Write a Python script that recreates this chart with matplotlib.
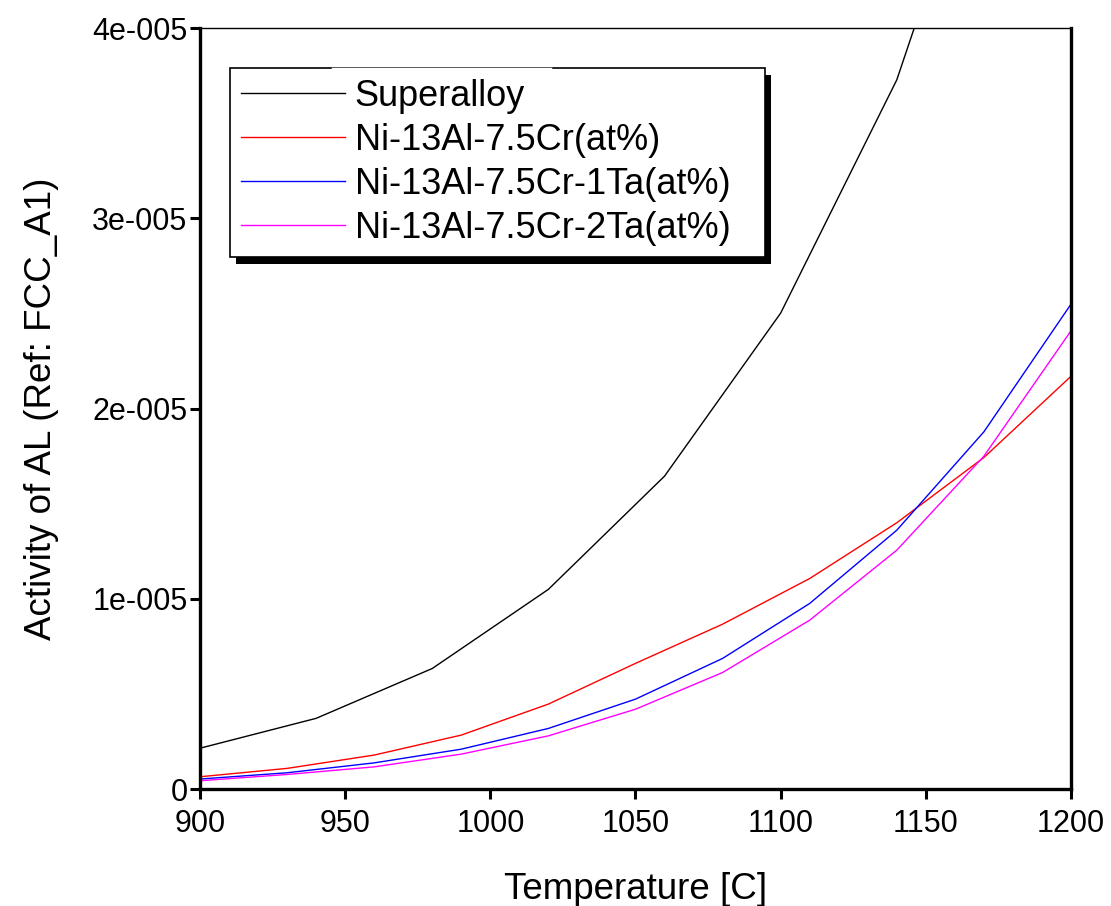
import numpy as np
import matplotlib
matplotlib.use("Agg")
import matplotlib.pyplot as plt
from matplotlib.patches import Rectangle
from matplotlib.lines import Line2D
from matplotlib.ticker import FuncFormatter

plt.rcParams['font.family'] = ['Liberation Sans', 'DejaVu Sans']

# temperatures [C]
temp_super = [900, 940, 980, 1020, 1060, 1100, 1140, 1180]
temp_alloy = [900, 930, 960, 990, 1020, 1050, 1080, 1110, 1140, 1170, 1200]

# activity of Al, in units of 1e-5
act_super = [0.215, 0.372, 0.634, 1.05, 1.645, 2.502, 3.728, 5.54]
act_cr = [0.065, 0.109, 0.179, 0.284, 0.447, 0.661, 0.867, 1.107, 1.400, 1.743, 2.170]
act_1ta = [0.053, 0.086, 0.138, 0.210, 0.319, 0.473, 0.687, 0.976, 1.361, 1.878, 2.549]
act_2ta = [0.044, 0.077, 0.117, 0.184, 0.280, 0.420, 0.613, 0.888, 1.256, 1.750, 2.409]

labels = ["Superalloy", "Ni-13Al-7.5Cr(at%)", "Ni-13Al-7.5Cr-1Ta(at%)", "Ni-13Al-7.5Cr-2Ta(at%)"]
colors = ["black", "red", "blue", "magenta"]

fig = plt.figure(figsize=(11.11, 9.06), dpi=100)
ax = fig.add_axes([0.18, 0.129, 0.784, 0.840])

series = [(temp_super, act_super), (temp_alloy, act_cr), (temp_alloy, act_1ta), (temp_alloy, act_2ta)]
for (t, a), lab, col in zip(series, labels, colors):
    ax.plot(t, np.array(a) * 1e-5, color=col, lw=1.0, label=lab)

ax.set_xlim(900, 1200)
ax.set_ylim(0, 4e-5)
ax.set_xticks(np.arange(900, 1201, 50))
ax.set_yticks([0, 1e-5, 2e-5, 3e-5, 4e-5])


def yfmt(v, pos):
    if v == 0:
        return "0"
    m, e = ("%e" % v).split("e")
    return "%de-%03d" % (round(float(m)), abs(int(e)))


ax.yaxis.set_major_formatter(FuncFormatter(yfmt))
ax.tick_params(direction='out', length=7, width=2.2, labelsize=22, top=False, right=False)
ax.tick_params(axis='x', pad=7)
ax.tick_params(axis='y', pad=2)
for side in ['left', 'bottom', 'right']:
    ax.spines[side].set_linewidth(2.4)
ax.spines['top'].set_linewidth(1.0)

ax.set_xlabel("Temperature [C]", fontsize=26.5, labelpad=24)
ax.set_ylabel("Activity of AL (Ref: FCC_A1)", fontsize=26.5, labelpad=24)

leg = ax.legend(loc='upper left', bbox_to_anchor=(0.0344, 0.9474, 0.6143, 0), mode='expand',
                fontsize=26, frameon=True, fancybox=False, framealpha=1.0, handlelength=2.9,
                handletextpad=0.25, borderpad=0.3, labelspacing=0.25, borderaxespad=0)
leg.get_frame().set_edgecolor('black')
leg.get_frame().set_facecolor('white')
leg.get_frame().set_linewidth(1.2)
leg.set_zorder(6)

# solid black drop shadow behind the legend box, plus the gap in its top edge
fig.canvas.draw()
bb = leg.get_window_extent()
shadow = Rectangle((bb.x0 + 6, bb.y0 - 7), bb.width, bb.height, transform=None,
                   facecolor='black', edgecolor='none', zorder=5, clip_on=False)
ax.add_patch(shadow)
gap = Line2D([bb.x0 + 103, bb.x0 + 320], [bb.y1 - 0.5, bb.y1 - 0.5], transform=None,
             color='white', lw=2.5, zorder=7, clip_on=False)
ax.add_line(gap)

fig.savefig("out.png", dpi=100)
